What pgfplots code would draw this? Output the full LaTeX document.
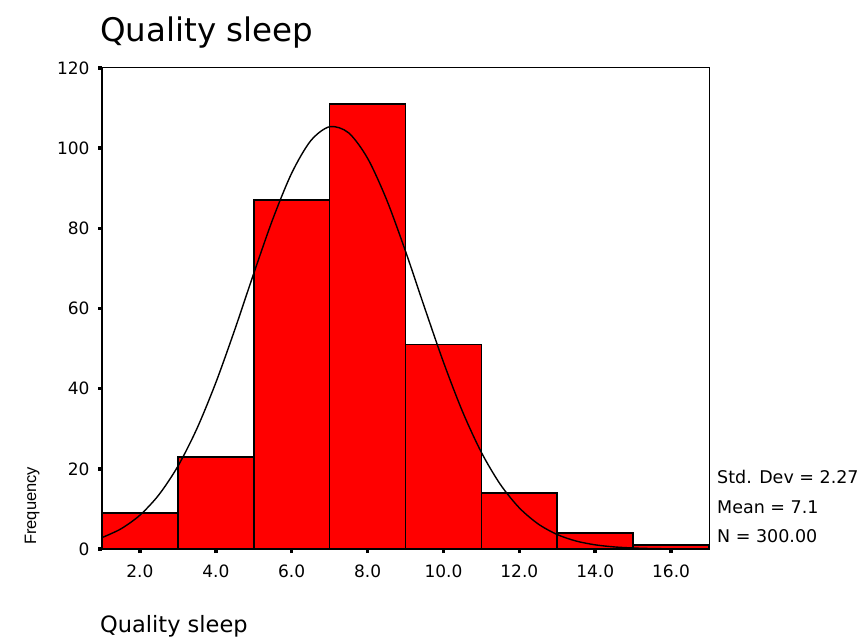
\documentclass[border=0pt]{standalone}
\usepackage{pgfplots}
\pgfplotsset{compat=1.18}
\usepackage{fontspec}
\setmainfont{DejaVu Sans}
\newfontfamily\arialf{Liberation Sans}
\begin{document}
\begin{tikzpicture}
\useasboundingbox (0pt,0pt) rectangle (864pt,640pt);
\begin{axis}[
  at={(102pt,91pt)}, anchor=south west,
  scale only axis, width=607pt, height=481pt,
  xmin=1, xmax=17, ymin=0, ymax=120,
  xtick={2,4,...,16}, ytick={0,20,...,120},
  minor tick num=0,
  tick align=outside,
  major tick length=4pt,
  tick style={line width=3.5pt, black},
  xtick pos=bottom, ytick pos=left,
  axis line style={line width=1pt},
  /pgf/number format/assume math mode=true,
  xticklabel style={yshift=-8pt, /pgf/number format/.cd, fixed, fixed zerofill, precision=1},
  yticklabel style={xshift=-5pt, /pgf/number format/.cd, fixed, precision=0},
  ticklabel style={font=\fontsize{17}{20}\selectfont},
  clip=false,
]
\addplot[ybar, bar width=2, bar shift=0pt, fill=red, draw=none]
  coordinates {(2,9) (4,23) (6,87) (8,111) (10,51) (12,14) (14,4) (16,1)};
\addplot[ybar, bar width=2, bar shift=0pt, draw=black, fill opacity=0, line width=1.7pt]
  coordinates {(2,9) (4,23) (6,87) (8,111) (10,51) (12,14) (14,4) (16,1)};
\addplot[black, line width=1.4pt, smooth, no marks] coordinates {
(1,2.85) (1.5,5.03) (2,8.45) (2.5,13.53) (3,20.64) (3.5,29.99) (4,41.50)
(4.5,54.72) (5,68.74) (5.5,82.25) (6,93.77) (6.5,101.83) (7,105.35)
(7.5,103.83) (8,97.48) (8.5,87.19) (9,74.29) (9.5,60.30) (10,46.63)
(10.5,34.35) (11,24.10) (11.5,16.11) (12,10.26) (12.5,6.23) (13,3.60)
(13.5,1.98) (14,1.04) (14.5,0.52) (15,0.25) (15.5,0.11) (16,0.05) (16.5,0.02) (17,0.01)};
\draw[line width=2.6pt, black] (rel axis cs:0,1) -- (rel axis cs:0,0) -- (rel axis cs:1,0);
\end{axis}
\node[anchor=base west, inner sep=0pt, font=\fontsize{32.5}{38}\selectfont] at (100pt,598pt) {Quality sleep};
\node[anchor=base west, inner sep=0pt, font=\fontsize{22.5}{26}\selectfont] at (100pt,8pt) {Quality sleep};
\node[anchor=base west, inner sep=0pt, rotate=90, font=\arialf\fontsize{16.5}{19}\selectfont] at (36pt,95pt) {Frequency};
\node[anchor=base west, inner sep=0pt, font=\fontsize{17.5}{20}\selectfont] at (717pt,157pt) {Std. Dev = 2.27};
\node[anchor=base west, inner sep=0pt, font=\fontsize{17.5}{20}\selectfont] at (717pt,127pt) {Mean = 7.1};
\node[anchor=base west, inner sep=0pt, font=\fontsize{17.5}{20}\selectfont] at (717pt,98pt) {N = 300.00};
\end{tikzpicture}
\end{document}
